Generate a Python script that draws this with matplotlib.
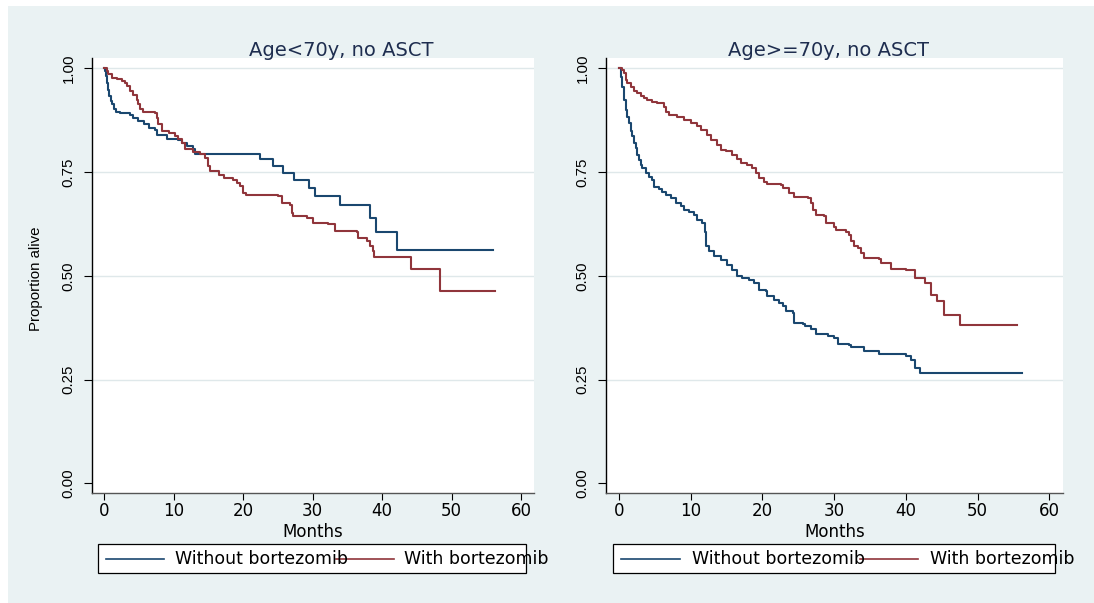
import matplotlib
matplotlib.use("Agg")
import matplotlib.pyplot as plt
from matplotlib.patches import Rectangle
from matplotlib.lines import Line2D

# ---------------- data ----------------
panel_titles = ["Age<70y, no ASCT", "Age>=70y, no ASCT"]
series_labels = ["Without bortezomib", "With bortezomib"]
x_ticks = [0, 10, 20, 30, 40, 50, 60]
y_ticks = [0.0, 0.25, 0.5, 0.75, 1.0]
y_tick_labels = ["0.00", "0.25", "0.50", "0.75", "1.00"]

# Panel 1: Age<70y, no ASCT
young_without_t = [0, 0.15, 0.29, 0.48, 0.62, 0.77, 0.96, 1.15, 1.44, 1.73, 2.3, 3.74, 4.2, 4.94,
                   5.7, 6.4, 7.3, 7.6, 9.1, 10.6, 11.2, 11.9, 12.8, 13.1, 22.4, 24.3, 25.7, 27.3,
                   29.5, 30.4, 34.0, 38.2, 39.2, 42.2, 56.0]
young_without_s = [1.0, 0.994, 0.981, 0.965, 0.949, 0.933, 0.921, 0.913, 0.903, 0.896, 0.893, 0.887,
                   0.881, 0.873, 0.865, 0.857, 0.851, 0.839, 0.829, 0.827, 0.821, 0.813, 0.805, 0.793,
                   0.781, 0.764, 0.748, 0.731, 0.712, 0.692, 0.670, 0.640, 0.605, 0.562, 0.562]
young_with_t = [0, 0.38, 0.62, 1.1, 1.82, 2.54, 3.0, 3.26, 3.74, 4.2, 4.7, 4.94, 5.18, 5.66, 7.34,
                7.6, 7.8, 8.3, 9.3, 10.2, 10.7, 11.2, 11.7, 12.8, 13.8, 14.5, 15.0, 15.3, 16.5, 17.2,
                18.6, 19.1, 19.6, 20.0, 20.5, 23.4, 25.1, 25.6, 26.8, 27.0, 27.2, 29.2, 30.1, 32.3,
                33.2, 36.4, 36.6, 37.8, 38.3, 38.7, 38.8, 44.1, 48.3, 56.3]
young_with_s = [1.0, 0.994, 0.986, 0.977, 0.974, 0.970, 0.965, 0.957, 0.945, 0.937, 0.925, 0.913,
                0.901, 0.895, 0.892, 0.881, 0.865, 0.849, 0.845, 0.837, 0.829, 0.821, 0.805, 0.798,
                0.793, 0.785, 0.765, 0.752, 0.744, 0.736, 0.732, 0.724, 0.716, 0.700, 0.695, 0.694,
                0.692, 0.675, 0.672, 0.652, 0.644, 0.640, 0.628, 0.624, 0.608, 0.605, 0.592, 0.584,
                0.572, 0.560, 0.546, 0.517, 0.463, 0.463]

# Panel 2: Age>=70y, no ASCT
old_without_t = [0, 0.24, 0.47, 0.70, 0.93, 1.17, 1.40, 1.63, 1.86, 2.1, 2.33, 2.56, 2.79, 3.03,
                 3.26, 3.72, 4.19, 4.65, 4.88, 5.58, 6.05, 6.51, 7.21, 7.91, 8.6, 9.07, 9.77, 10.5,
                 10.9, 11.6, 12.0, 12.2, 12.6, 13.3, 14.2, 15.1, 15.8, 16.5, 17.2, 18.1, 18.8, 19.5,
                 20.5, 20.7, 21.6, 22.3, 22.8, 23.3, 24.2, 24.4, 25.6, 26.0, 26.7, 27.4, 29.1, 30.0,
                 30.5, 32.1, 32.3, 34.2, 36.3, 40.0, 40.7, 41.2, 41.9, 56.2]
old_without_s = [1.0, 0.980, 0.956, 0.924, 0.900, 0.884, 0.868, 0.848, 0.836, 0.820, 0.808, 0.792,
                 0.780, 0.767, 0.759, 0.747, 0.739, 0.731, 0.715, 0.709, 0.703, 0.695, 0.687, 0.675,
                 0.669, 0.659, 0.653, 0.647, 0.635, 0.627, 0.607, 0.571, 0.559, 0.547, 0.539, 0.527,
                 0.515, 0.499, 0.495, 0.491, 0.483, 0.467, 0.463, 0.451, 0.443, 0.435, 0.427, 0.415,
                 0.411, 0.387, 0.385, 0.379, 0.371, 0.359, 0.355, 0.351, 0.337, 0.334, 0.329, 0.320,
                 0.313, 0.306, 0.298, 0.278, 0.266, 0.266]
old_with_t = [0, 0.47, 0.70, 0.93, 1.17, 1.63, 2.1, 2.56, 3.03, 3.49, 3.96, 4.65, 5.35, 6.28, 6.51,
              6.98, 8.14, 9.07, 10.0, 10.9, 11.4, 12.3, 12.8, 13.7, 14.2, 14.9, 15.8, 16.5, 17.0,
              17.9, 18.6, 19.1, 19.5, 20.2, 20.7, 22.6, 22.8, 23.7, 24.4, 26.3, 26.7, 27.0, 27.4,
              28.6, 28.8, 30.0, 30.2, 31.6, 32.1, 32.3, 32.8, 33.3, 33.7, 34.2, 36.3, 36.5, 37.9,
              40.0, 41.2, 42.7, 43.5, 44.4, 45.3, 47.6, 55.5]
old_with_s = [1.0, 0.996, 0.988, 0.972, 0.964, 0.956, 0.946, 0.940, 0.933, 0.928, 0.924, 0.920,
              0.916, 0.908, 0.896, 0.888, 0.882, 0.876, 0.868, 0.860, 0.852, 0.840, 0.828, 0.816,
              0.804, 0.800, 0.792, 0.781, 0.772, 0.767, 0.759, 0.747, 0.735, 0.727, 0.721, 0.719,
              0.711, 0.699, 0.689, 0.687, 0.675, 0.659, 0.647, 0.645, 0.627, 0.619, 0.611, 0.607,
              0.599, 0.583, 0.571, 0.567, 0.555, 0.543, 0.540, 0.531, 0.517, 0.515, 0.496, 0.484,
              0.455, 0.439, 0.405, 0.381, 0.381]

# ---------------- style ----------------
W, H = 1094, 603
BG = "#EAF2F3"
BLUE = "#1A476F"
RED = "#90353B"
GRID = "#DFE8EA"
TITLE_C = "#1E2D4F"
HFONT = "DejaVu Sans"
VFONT = "Liberation Sans"

fig = plt.figure(figsize=(W / 100, H / 100), dpi=100)
fig.patch.set_facecolor("white")
fig.add_artist(Rectangle((8 / W, 0), 1 - 8 / W, 1 - 6 / H, transform=fig.transFigure,
                         facecolor=BG, edgecolor="none", zorder=0))


def px_axes(l, t, r, b):
    return fig.add_axes([l / W, 1 - b / H, (r - l) / W, (b - t) / H])


def fx(x):
    return x / W


def fy(y):
    return 1 - y / H


panels = [
    dict(box=(92, 58, 534, 493), xlim=(-1.73, 61.87), title_x=341.5,
         curves=[(young_without_t, young_without_s), (young_with_t, young_with_s)],
         ylabel=True,
         legend=dict(box=(98, 544, 526, 573), l1=(106, 164), t1=175, l2=(336, 394), t2=404)),
    dict(box=(606, 58, 1063, 493), xlim=(-1.81, 61.9), title_x=829,
         curves=[(old_without_t, old_without_s), (old_with_t, old_with_s)],
         ylabel=False,
         legend=dict(box=(613, 544, 1055, 573), l1=(621, 680), t1=692, l2=(860, 918), t2=930)),
]

colors = [BLUE, RED]

for i, p in enumerate(panels):
    l, t, r, b = p["box"]
    ax = px_axes(l, t, r, b)
    ax.set_facecolor("white")
    ax.set_xlim(*p["xlim"])
    ax.set_ylim(-0.023, 1.025)
    for gy in y_ticks[1:]:
        ax.axhline(gy, color=GRID, lw=1.0, zorder=1)
    for (tt, ss), c in zip(p["curves"], colors):
        ax.step(tt, ss, where="post", color=c, lw=1.5, zorder=3)

    for s in ["top", "right"]:
        ax.spines[s].set_visible(False)
    ax.spines["left"].set_color("black")
    ax.spines["left"].set_linewidth(1.0)
    ax.spines["bottom"].set_color("#555555")
    ax.spines["bottom"].set_linewidth(1.0)

    ax.set_xticks(x_ticks)
    ax.set_xticklabels([str(v) for v in x_ticks], fontsize=12, family=HFONT)
    ax.tick_params(axis="x", length=5.0, width=0.8, pad=1.2, colors="black")
    ax.set_yticks(y_ticks)
    ax.set_yticklabels(y_tick_labels, rotation=90, va="center", fontsize=10.8, family=VFONT)
    ax.tick_params(axis="y", length=5.8, width=0.8, pad=6.0, colors="black")

    ax.set_xlabel("Months", fontsize=12, family=HFONT)
    ax.xaxis.label.set_va("baseline")
    ax.xaxis.set_label_coords(0.5, -(537 - 493) / (b - t))
    if p["ylabel"]:
        ax.set_ylabel("Proportion alive", fontsize=10.8, family=VFONT)
        ax.yaxis.set_label_coords(-(l - 43) / (r - l), (b - 279) / (b - t))

    fig.text(fx(p["title_x"]), fy(56), panel_titles[i], ha="center", va="baseline",
             fontsize=14, family=HFONT, color=TITLE_C)

    # legend (drawn as in the reference: the text overflows the box)
    lg = p["legend"]
    bl, bt, br, bb = lg["box"]
    fig.add_artist(Rectangle((fx(bl), fy(bb)), (br - bl) / W, (bb - bt) / H,
                             transform=fig.transFigure, facecolor="white",
                             edgecolor="black", lw=0.9, zorder=2))
    ly = fy(559)
    for (x0, x1), tx, c, lab in [(lg["l1"], lg["t1"], BLUE, series_labels[0]),
                                 (lg["l2"], lg["t2"], RED, series_labels[1])]:
        fig.add_artist(Line2D([fx(x0), fx(x1)], [ly, ly], transform=fig.transFigure,
                              color=c, lw=1.2, zorder=3))
        fig.text(fx(tx), fy(564), lab, ha="left", va="baseline", fontsize=12.5,
                 family=HFONT, color="black", zorder=4)

fig.savefig("out.png", dpi=100, facecolor=fig.get_facecolor())
